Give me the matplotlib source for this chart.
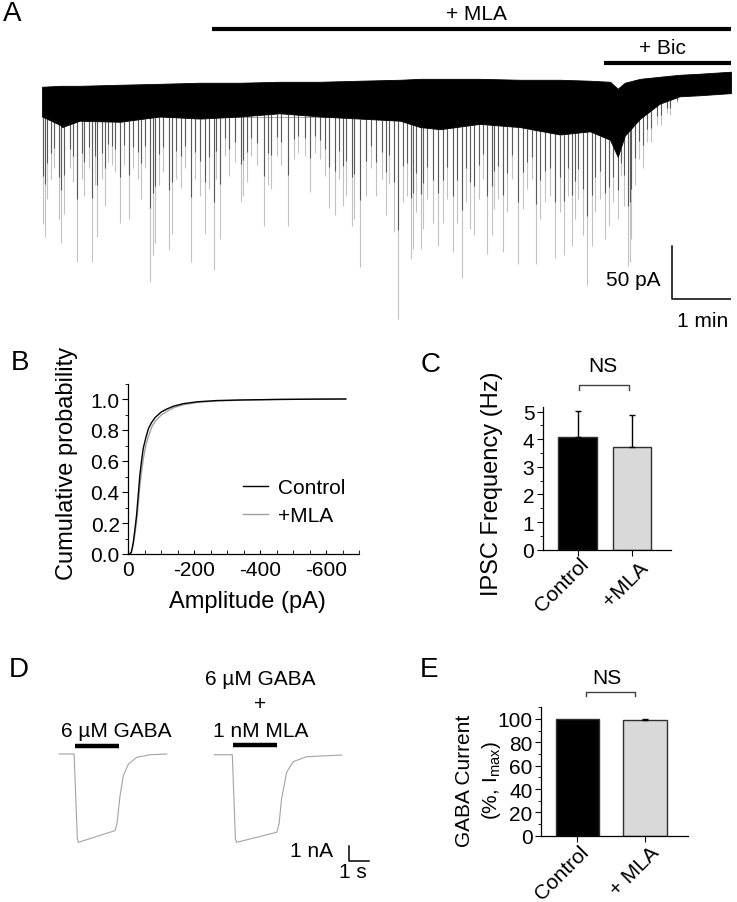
import matplotlib
matplotlib.use("Agg")
import matplotlib.pyplot as plt
import numpy as np

plt.rcParams['font.family'] = ['Liberation Sans', 'DejaVu Sans']
plt.rcParams['font.size'] = 15
plt.rcParams['axes.unicode_minus'] = False
plt.rcParams['mathtext.fontset'] = 'custom'
plt.rcParams['mathtext.rm'] = 'Liberation Sans'
plt.rcParams['axes.linewidth'] = 0.9

# ---- Panel A: continuous recording (time in min, current in pA) ----
band_t = [0, 0.31, 0.34, 0.64, 1.32, 2.0, 2.68, 3.36, 4.03, 4.71, 5.39, 6.07, 6.41,
          6.75, 7.42, 8.10, 8.78, 9.29, 9.63, 9.76, 9.88, 10.14, 10.47, 10.81, 11.15, 11.68]
band_top = [0, 0.9, 0.9, 0.9, 1.9, 2.8, 3.8, 3.8, 4.7, 4.7, 5.7, 6.6, 7.5,
            7.5, 7.5, 6.6, 6.6, 5.7, 4.7, -1.9, 3.8, 7.5, 9.4, 11.3, 12.3, 14.2]
band_bot = [-28, -36, -38, -32, -33, -28, -30, -28, -25, -28, -30, -32, -38,
            -40, -35, -38, -45, -42, -50, -66, -46, -30, -16, -9, -8, -6]

spike_t = [0.02, 0.05, 0.09, 0.16, 0.21, 0.28, 0.32, 0.37, 0.47, 0.53,
           0.60, 0.67, 0.72, 0.79, 0.85, 0.89, 0.94, 1.01, 1.06, 1.12,
           1.19, 1.24, 1.32, 1.39, 1.47, 1.54, 1.63, 1.68, 1.74, 1.83,
           1.88, 1.91, 1.98, 2.05, 2.15, 2.21, 2.28, 2.35, 2.42, 2.52,
           2.59, 2.67, 2.76, 2.83, 2.91, 2.95,
           3.02, 3.10, 3.17, 3.27, 3.37, 3.41, 3.48, 3.55, 3.64, 3.77,
           3.83, 3.89, 3.98, 4.06, 4.17, 4.27, 4.34, 4.45, 4.54, 4.63,
           4.71, 4.79, 4.87, 4.97, 5.03, 5.10, 5.16, 5.26, 5.29, 5.39,
           5.49, 5.58, 5.67, 5.76, 5.83, 5.88, 5.96,
           6.04, 6.12, 6.18, 6.25, 6.29, 6.34, 6.42, 6.46, 6.53, 6.62,
           6.72, 6.80, 6.87, 6.97, 7.03, 7.12, 7.19, 7.25, 7.32, 7.40,
           7.48, 7.55, 7.62, 7.66, 7.73, 7.82, 7.88, 7.97, 8.07, 8.15,
           8.23, 8.30, 8.37, 8.44, 8.53, 8.61, 8.69, 8.78, 8.85, 8.92,
           8.98, 9.03, 9.09, 9.17, 9.24, 9.32, 9.37, 9.46, 9.54, 9.62,
           9.68, 9.77, 9.81, 9.87, 9.93, 9.97, 9.99, 10.05, 10.12, 10.19,
           10.26, 10.33, 10.42, 10.50, 10.59, 10.64, 10.76]
spike_pA = [-129, -142, -106, -87, -77, -125, -147, -120, -77, -90,
            -165, -87, -103, -77, -165, -93, -142, -87, -112, -71,
            -74, -80, -128, -74, -125, -77, -87, -106, -77, -184,
            -159, -147, -93, -80, -154, -139, -87, -95, -77, -165,
            -87, -103, -139, -96, -173, -87,
            -143, -65, -84, -71, -109, -103, -90, -65, -74, -131,
            -93, -96, -65, -74, -131, -68, -62, -65, -99, -62,
            -68, -84, -114, -121, -87, -112, -103, -131, -125, -170,
            -103, -77, -103, -87, -121, -92, -137,
            -219, -109, -103, -162, -153, -118, -153, -134, -106, -128,
            -150, -128, -106, -156, -128, -180, -109, -134, -140, -106,
            -87, -158, -140, -115, -106, -156, -118, -87, -167, -115,
            -96, -87, -167, -125, -109, -103, -161, -118, -159, -103,
            -150, -125, -106, -140, -187, -150, -118, -106, -143, -131,
            -109, -125, -84, -112, -169, -165, -143, -93, -68, -77,
            -52, -52, -36, -36, -25, -27, -14]
rec_end = 11.68
mla_start = 2.88
bic_start = 9.53

# ---- Panel B: cumulative amplitude distributions ----
amp_pA = [0, -5, -10, -16, -21, -26, -31, -36, -41, -46, -54, -62, -72, -82,
          -100, -117, -140, -168, -210, -269, -350, -450, -560, -660]
cum_control = [0, 0.0, 0.01, 0.075, 0.16, 0.25, 0.38, 0.51, 0.60, 0.68, 0.75, 0.81,
               0.85, 0.88, 0.915, 0.935, 0.955, 0.97, 0.982, 0.99, 0.994, 0.997, 0.999, 1.0]
cum_mla = [0, 0.0, 0.01, 0.06, 0.13, 0.21, 0.32, 0.44, 0.53, 0.61, 0.70, 0.76,
           0.82, 0.855, 0.895, 0.92, 0.945, 0.963, 0.978, 0.987, 0.993, 0.997, 0.999, 1.0]

# ---- Panel C: IPSC frequency ----
freq_groups = ['Control', '+MLA']
freq_mean = [4.09, 3.73]
freq_err = [0.94, 1.15]

# ---- Panel D: GABA-evoked currents (s, nA) ----
gaba_t = [0, 0.76, 0.93, 0.98, 2.87, 2.97, 3.13, 3.30, 3.56, 3.99, 4.68, 5.54]
gaba_nA = [0, 0, -5.67, -5.89, -5.11, -4.67, -2.78, -1.45, -0.67, -0.22, -0.05, 0]
gaba_mla_t = [0, 0.93, 1.09, 1.15, 3.22, 3.34, 3.47, 3.73, 4.07, 4.76, 6.57]
gaba_mla_nA = [-0.05, -0.05, -5.67, -5.89, -5.22, -4.67, -3.0, -1.22, -0.51, -0.18, -0.07]
gaba_app = (0.81, 3.08)
gaba_mla_app = (0.98, 3.25)
second_trace_start = 7.99

# ---- Panel E: normalised GABA current ----
gaba_groups = ['Control', '+ MLA']
gaba_mean = [100, 99.4]
gaba_err = [0, 1.0]

W, H = 737, 903
fig = plt.figure(figsize=(W / 100, H / 100), dpi=100)


def px_axes(l, t, r, b):
    return fig.add_axes([l / W, 1 - b / H, (r - l) / W, (b - t) / H])


def ftext(x, y, s, **kw):
    kw.setdefault('ha', 'center')
    kw.setdefault('va', 'center')
    return fig.text(x / W, 1 - y / H, s, **kw)


# Panel A
axA = px_axes(42, 5, 731, 335)
axA.set_xlim(0, rec_end)
axA.set_ylim(-233, 78)
axA.axis('off')
st = np.array(spike_t)
sp = np.array(spike_pA)
base = np.interp(st, band_t, band_bot)
axA.plot([0, 10.1], [-28.6, -28.6], color='#8a8a8a', lw=0.5, zorder=1)
axA.vlines(st, base, sp, color='#c2c2c2', lw=0.8, zorder=2)
axA.vlines(st, base, base + 0.55 * (sp - base), color='#5a5a5a', lw=0.8, zorder=3)
axA.fill_between(band_t, band_bot, band_top, color='black', lw=0.6, zorder=4)
axA.plot([mla_start, rec_end], [54.7, 54.7], color='black', lw=3, solid_capstyle='butt')
axA.plot([bic_start, rec_end], [22.6, 22.6], color='black', lw=3, solid_capstyle='butt')
axA.plot([10.68, 10.68, 11.68], [-150, -200, -200], color='black', lw=1.1)
ftext(476, 15, '+ MLA')
ftext(662, 48, '+ Bic')
ftext(660, 280, '50 pA', ha='right')
ftext(703, 322, '1 min')

# Panel B
axB = px_axes(128, 384.5, 359, 555)
axB.plot(amp_pA, cum_mla, color='#a0a0a0', lw=1.0, label='+MLA')
axB.plot(amp_pA, cum_control, color='black', lw=1.0, label='Control')
axB.set_xlim(0, -700)
axB.set_ylim(0, 1.1)
axB.set_xticks([0, -200, -400, -600])
axB.set_xticks(np.arange(0, -701, -50), minor=True)
axB.set_yticks(np.arange(0, 1.01, 0.2))
axB.set_yticks(np.arange(0, 1.11, 0.1), minor=True)
axB.tick_params(axis='x', which='both', direction='in', length=3, pad=4)
axB.tick_params(axis='y', which='major', direction='out', length=4, pad=2)
axB.tick_params(axis='y', which='minor', direction='out', length=2)
axB.spines[['top', 'right']].set_visible(False)
h, l = axB.get_legend_handles_labels()
axB.legend(h[::-1], l[::-1], frameon=False, loc='upper left', borderpad=0,
           borderaxespad=0, handlelength=1.2, handletextpad=0.5, labelspacing=0.45,
           bbox_to_anchor=(243 / W, 1 - 479 / H), bbox_transform=fig.transFigure)
ftext(67, 463, 'Cumulative probability', rotation=90, fontsize=17)
ftext(247, 602, 'Amplitude (pA)', fontsize=17)

# Panel C
axC = px_axes(542.7, 408, 670.7, 550.7)
xc = np.arange(len(freq_groups))
axC.bar(xc, freq_mean, width=0.7, color=['black', '#d9d9d9'], edgecolor='#303030', lw=1)
axC.errorbar(xc, freq_mean, yerr=[[0, 0], freq_err], fmt='none', ecolor='black',
             elinewidth=1, capsize=2.5, capthick=1)
axC.set_xlim(-0.64, 1.71)
axC.set_ylim(0, 5.17)
axC.set_yticks(range(6))
axC.set_yticks(np.arange(0, 5.1, 0.5), minor=True)
axC.set_xticks(xc)
axC.set_xticklabels([])
axC.tick_params(axis='y', which='major', length=4, pad=2)
axC.tick_params(axis='y', which='minor', length=2)
axC.tick_params(axis='x', length=4)
axC.spines[['top', 'right']].set_visible(False)
axC.plot([0.03, 0.03, 0.945, 0.945], [5.80, 5.98, 5.98, 5.80], color='#404040', lw=1, clip_on=False)
ftext(603, 367, 'NS')
ftext(492, 484, 'IPSC Frequency (Hz)', rotation=90, fontsize=17)
ftext(562, 585, freq_groups[0], rotation=45, rotation_mode='anchor')
ftext(626, 585, freq_groups[1], rotation=45, rotation_mode='anchor')

# Panel D
axD = px_axes(0, 640, 370, 903)
axD.set_xlim(-3.06, 16.02)
axD.set_ylim(-9.87, 7.67)
axD.axis('off')
axD.plot(gaba_t, gaba_nA, color='#a3a3a3', lw=0.8)
axD.plot(np.array(gaba_mla_t) + second_trace_start, gaba_mla_nA, color='#a3a3a3', lw=0.8)
axD.plot(gaba_app, [0.55, 0.55], color='black', lw=3.2, solid_capstyle='butt')
axD.plot(np.array(gaba_mla_app) + second_trace_start, [0.62, 0.62], color='black', lw=3.2,
         solid_capstyle='butt')
axD.plot([14.96, 14.96, 15.96], [-6.13, -7.13, -7.13], color='black', lw=1.1)
ftext(116, 732, '6 µM GABA')
ftext(260, 680, '6 µM GABA')
ftext(260, 705, '+')
ftext(261, 732, '1 nM MLA')
ftext(333, 852, '1 nA', ha='right')
ftext(353, 873, '1 s')

# Panel E
axE = px_axes(541, 708.3, 688.3, 836.7)
xe = np.arange(len(gaba_groups))
axE.bar(xe, gaba_mean, width=0.64, color=['black', '#d9d9d9'], edgecolor='#303030', lw=1)
axE.errorbar(xe[1:], gaba_mean[1:], yerr=[[0], gaba_err[1:]], fmt='none', ecolor='black',
             elinewidth=1, capsize=2.5, capthick=1)
axE.set_xlim(-0.54, 1.64)
axE.set_ylim(0, 110)
axE.set_yticks(range(0, 101, 20))
axE.set_yticks(range(0, 111, 10), minor=True)
axE.set_xticks(xe)
axE.set_xticklabels([])
axE.tick_params(axis='y', which='major', length=4, pad=2)
axE.tick_params(axis='y', which='minor', length=2)
axE.tick_params(axis='x', length=4)
axE.spines[['top', 'right']].set_visible(False)
axE.plot([0.12, 0.12, 0.85, 0.85], [119.5, 122.9, 122.9, 119.5], color='#404040', lw=1, clip_on=False)
ftext(607, 679, 'NS')
ftext(464, 781, 'GABA Current', rotation=90)
ftext(492, 781, r'(%, I$_{\mathrm{max}}$)', rotation=90)
ftext(562, 873, gaba_groups[0], rotation=45, rotation_mode='anchor')
ftext(635, 872, gaba_groups[1], rotation=45, rotation_mode='anchor')

# panel letters
for s, x, y in [('A', 12, 14), ('B', 20, 363), ('C', 431, 365), ('D', 19, 670), ('E', 429, 670)]:
    ftext(x, y, s, fontsize=20)

fig.savefig('out.png', dpi=100)
